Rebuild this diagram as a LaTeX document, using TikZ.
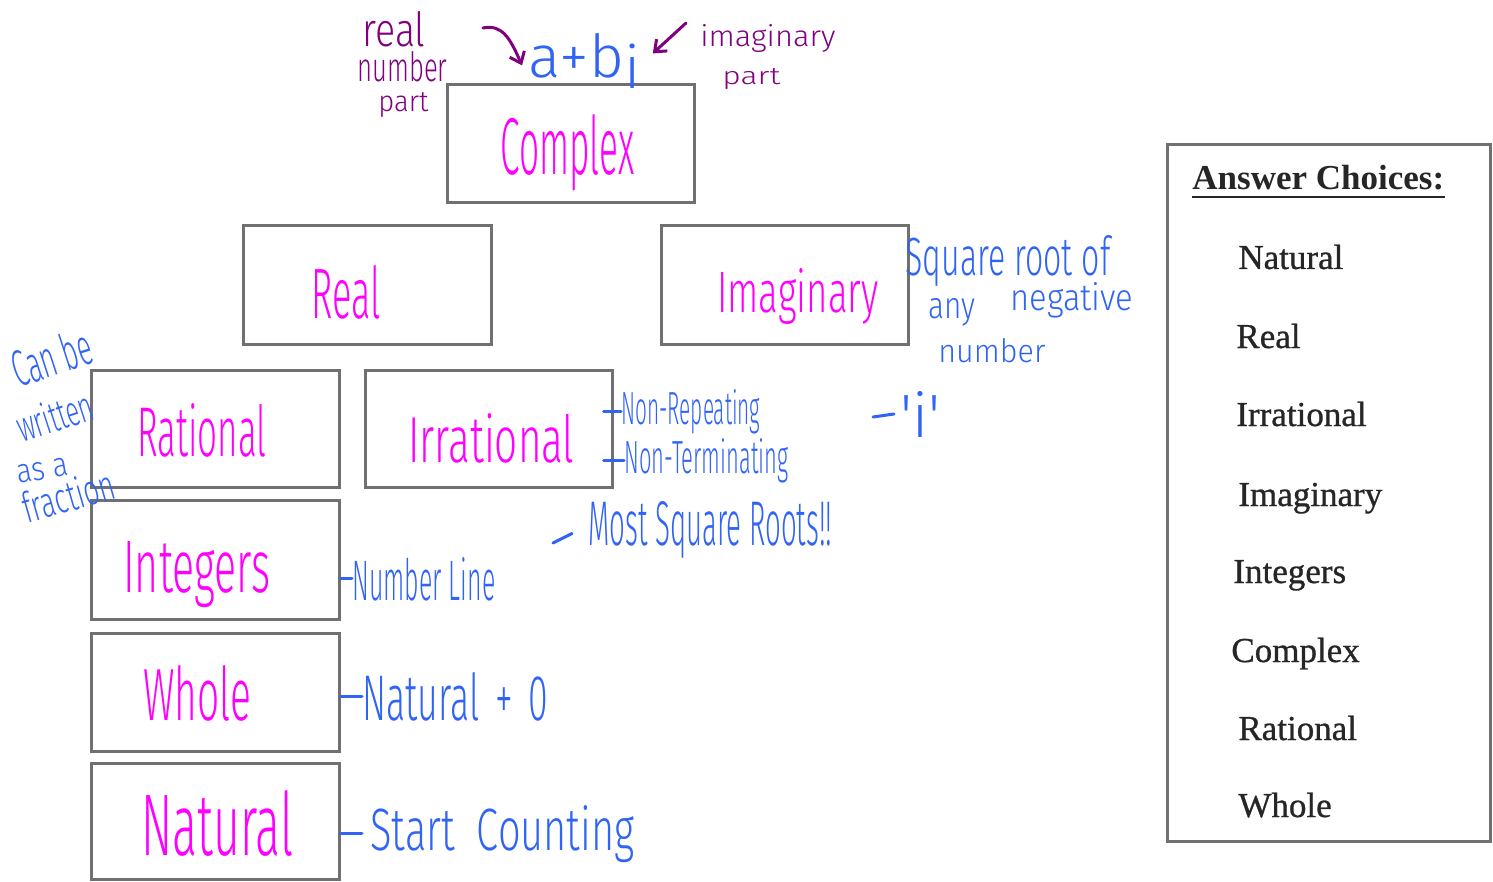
\documentclass[tikz,border=0pt]{standalone}
\usepackage{fontspec}
\setmainfont{Liberation Serif}
\newfontfamily\handfont{Fira Sans Light}
\usetikzlibrary{arrows.meta}
\definecolor{pen}{RGB}{255,0,255}
\definecolor{ink}{RGB}{48,100,245}
\definecolor{plum}{RGB}{128,0,128}
\definecolor{frame}{RGB}{112,112,112}
\definecolor{print}{RGB}{38,38,38}
% handwritten word scaled to a given width and height (pt)
\newcommand\hw[3]{\resizebox{#1pt}{#2pt}{\handfont #3}}
\begin{document}
\begin{tikzpicture}[x=0.5pt,y=-0.5pt,
  catbox/.style={draw=frame, line width=1.5pt, fill=white, inner sep=0pt},
  hand/.style={inner sep=0pt, anchor=base west},
  magentaword/.style={hand, text=pen},
  blueword/.style={hand, text=ink},
  plumword/.style={hand, text=plum},
  bluepen/.style={draw=ink, line width=1.5pt, line cap=round},
  plumpen/.style={draw=plum, line width=1.5pt, line cap=round, line join=round},
  choice/.style={inner sep=0pt, anchor=base west, text=print, font=\fontsize{17.5}{20}\selectfont\addfontfeature{FakeBold=0.8}}]
\useasboundingbox (0,0) rectangle (1493,882);
\fill[white] (0,0) rectangle (1493,882);

% category boxes
\node[catbox, minimum width=123.5pt, minimum height=59pt] (complex) at (570.5,144) {};
\node[catbox, minimum width=124pt,   minimum height=59pt] (real)    at (367,285) {};
\node[catbox, minimum width=123.5pt, minimum height=59pt] (imag)    at (784.5,285) {};
\node[catbox, minimum width=124pt,   minimum height=58.5pt] (rational) at (215,428.5) {};
\node[catbox, minimum width=123.5pt, minimum height=58.5pt] (irrational) at (488.5,428.5) {};
\node[catbox, minimum width=124pt,   minimum height=59.5pt] (integers) at (215,559.5) {};
\node[catbox, minimum width=124pt,   minimum height=59pt] (whole)    at (215,692) {};
\node[catbox, minimum width=124pt,   minimum height=58pt] (natural)  at (215,821) {};

% box labels
\node[magentaword] (lcomplex) at (500,175) {\hw{67}{30}{Complex}};
\node[magentaword] (lreal) at (311,318) {\hw{34.5}{26.5}{Real}};
\node[magentaword] (limag) at (717,312) {\hw{80.5}{22}{Imaginary}};
\node[magentaword] (lrational) at (137,456) {\hw{64.5}{26.5}{Rational}};
\node[magentaword] (lirrational) at (408,462) {\hw{83}{24.5}{Irrational}};
\node[magentaword] (lintegers) at (123,592) {\hw{73.5}{25.5}{Integers}};
\node[magentaword] (lwhole) at (143,720) {\hw{54}{27.5}{Whole}};
\node[magentaword] (lnatural) at (141,855) {\hw{76}{32.5}{Natural}};

% a + bi with its parts
\node[blueword] (abi) at (528,78) {\hw{56}{22}{a+b\raisebox{-0.35ex}{i}}};
\node[plumword] (real1) at (362,47) {\hw{31.5}{17.5}{real}};
\node[plumword] (real2) at (357,82) {\hw{45}{15}{number}};
\node[plumword] (real3) at (378,112) {\hw{25}{9.5}{part}};
\node[plumword] (imag1) at (700,47) {\hw{67.5}{11}{imaginary}};
\node[plumword] (imag2) at (722,85) {\hw{29}{8}{part}};
\coordinate (ra) at (483,28);
\coordinate (ia) at (686,23);
\draw[plumpen, -{Straight Barb[length=5pt,width=8pt]}] (ra) .. controls (502,24) and (510,38) .. ([xshift=-3pt,yshift=-2pt]abi.west);
\draw[plumpen, -{Straight Barb[length=5pt,width=8pt]}] (ia) -- ([xshift=6pt,yshift=4pt]abi.east);

% notes on the imaginary box
\node[blueword] (sq1) at (905,275) {\hw{102.5}{20}{Square root of}};
\node[blueword] (sq2) at (928,318) {\hw{23.5}{10}{any}};
\node[blueword] (sq3) at (1010,310) {\hw{61.5}{14}{negative}};
\node[blueword] (sq4) at (938,362) {\hw{53.5}{12}{number}};
\node[blueword] (inote) at (900,437) {\hw{20}{23}{'i'}};
\coordinate (idash) at (873,417);
\draw[bluepen] (idash) -- ([xshift=-3pt]inote.west);

% notes on the rational box
\node[blueword, rotate=18] (fr1) at (18,388) {\hw{41}{19}{Can be}};
\node[blueword, rotate=18] (fr2) at (22,443) {\hw{39}{16}{written}};
\node[blueword, rotate=10] (fr3) at (18,484) {\hw{26}{9}{as a}};
\node[blueword, rotate=16] (fr4) at (27,524) {\hw{47}{16}{fraction}};

% notes on the irrational box
\node[blueword] (nr) at (621,424) {\hw{69.5}{17.5}{Non-Repeating}};
\node[blueword] (nt) at (624,473) {\hw{82}{17.5}{Non-Terminating}};
\draw[bluepen] (irrational.east |- nr.west) ++(-5pt,0) -- (nr.west);
\draw[bluepen] (irrational.east |- nt.west) ++(-5pt,0) -- (nt.west);
\node[blueword] (msr) at (588,545) {\hw{122}{22}{Most Square Roots!!}};
\coordinate (msrdash) at (553,543);
\draw[bluepen] (msrdash) -- ([xshift=-8pt,yshift=-2pt]msr.west);

% notes on the lower boxes
\node[blueword] (nl) at (352,600) {\hw{71.5}{21.5}{Number Line}};
\draw[bluepen] (integers.east |- nl.west) -- (nl.west);
\node[blueword] (np) at (362,720) {\hw{93}{24}{Natural \,+\, 0}};
\draw[bluepen] (whole.east |- np.west) -- (np.west);
\node[blueword] (sc) at (370,850) {\hw{132}{22.5}{Start \ Counting}};
\draw[bluepen] (natural.east |- sc.west) -- ([xshift=-4pt]sc.west);

% answer choices
\node[catbox, minimum width=161.5pt, minimum height=348pt] (choices) at (1328.5,493) {};
\node[choice, font=\fontsize{17.5}{20}\selectfont\bfseries] (head) at (1192,190) {Answer Choices:};
\draw[print, line width=0.9pt] ([yshift=-3.5pt]head.base west) -- ([yshift=-3.5pt]head.base east);
\node[choice] (c1) at (1238,269) {Natural};
\node[choice] (c2) at (1236,348) {Real};
\node[choice] (c3) at (1236,426) {Irrational};
\node[choice] (c4) at (1238,506) {Imaginary};
\node[choice] (c5) at (1233,583) {Integers};
\node[choice] (c6) at (1231,662) {Complex};
\node[choice] (c7) at (1238,740) {Rational};
\node[choice] (c8) at (1238,817) {Whole};
\end{tikzpicture}
\end{document}
